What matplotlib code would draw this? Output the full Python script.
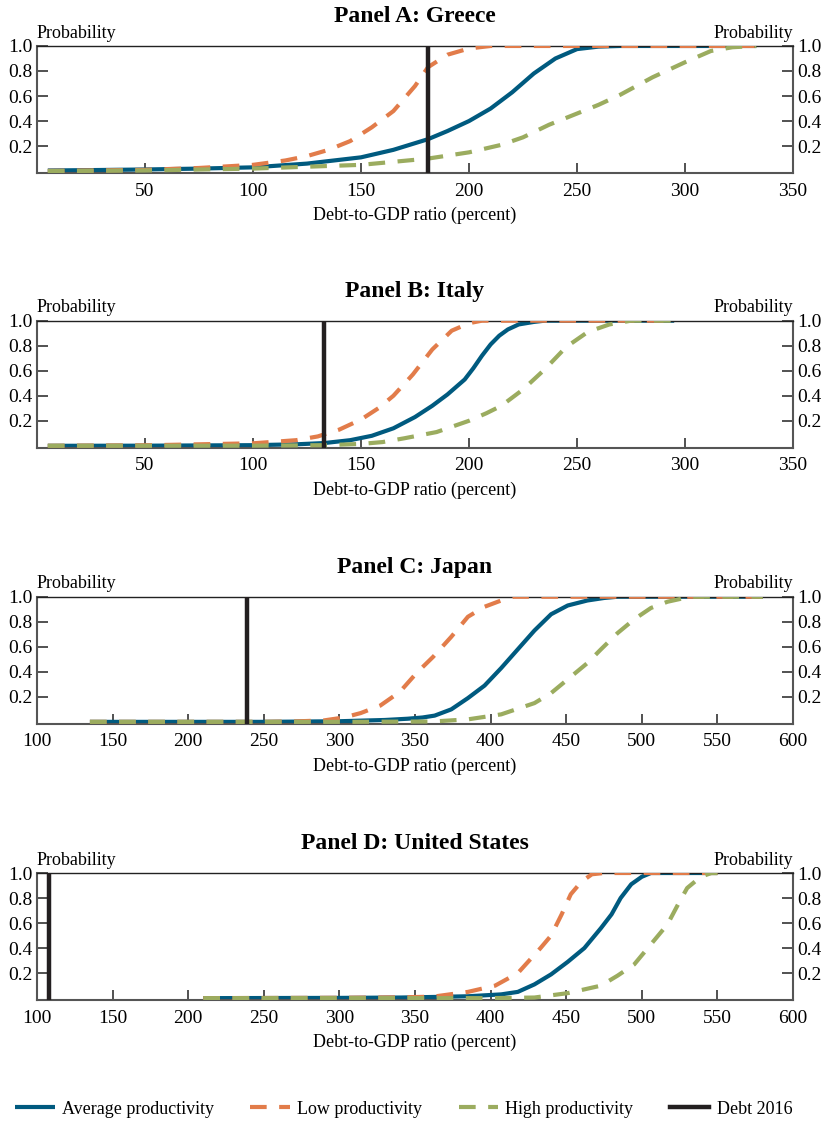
import matplotlib
matplotlib.use('Agg')
import matplotlib.pyplot as plt

plt.rcParams['font.family'] = ['Liberation Serif', 'DejaVu Serif']

# 颜色
BLUE = '#005a7f'
ORANGE = '#e27c4a'
GREEN = '#9bac5f'
BLACK = '#231f20'

# Panel A: Greece
greece_avg_x = [5, 25, 50, 75, 100, 125, 150, 165, 181, 190, 200, 210, 220, 230, 240, 250, 260, 270, 333]
greece_avg_y = [0.005, 0.008, 0.013, 0.02, 0.03, 0.06, 0.11, 0.17, 0.255, 0.32, 0.40, 0.50, 0.63, 0.78, 0.90, 0.975, 0.995, 1.0, 1.0]
greece_low_x = [5, 25, 50, 75, 100, 115, 125, 135, 145, 155, 165, 175, 181, 190, 200, 210, 220, 333]
greece_low_y = [0.002, 0.005, 0.01, 0.025, 0.05, 0.085, 0.12, 0.17, 0.24, 0.35, 0.48, 0.68, 0.83, 0.93, 0.98, 1.0, 1.0, 1.0]
greece_high_x = [5, 50, 100, 150, 181, 200, 215, 225, 237, 250, 260, 270, 285, 300, 312, 322, 333]
greece_high_y = [0.0, 0.005, 0.02, 0.05, 0.10, 0.15, 0.21, 0.27, 0.37, 0.46, 0.53, 0.61, 0.75, 0.87, 0.96, 0.99, 1.0]

# Panel B: Italy
italy_avg_x = [5, 50, 100, 120, 133, 145, 155, 165, 175, 183, 190, 198, 202, 206, 210, 214, 218, 223, 230, 235, 295]
italy_avg_y = [0.0, 0.001, 0.005, 0.012, 0.022, 0.045, 0.08, 0.14, 0.23, 0.32, 0.41, 0.53, 0.62, 0.72, 0.81, 0.88, 0.93, 0.97, 0.99, 1.0, 1.0]
italy_low_x = [5, 50, 100, 120, 130, 140, 150, 158, 165, 174, 183, 192, 200, 206, 215, 295]
italy_low_y = [0.0, 0.004, 0.02, 0.045, 0.075, 0.13, 0.21, 0.30, 0.40, 0.57, 0.77, 0.92, 0.98, 1.0, 1.0, 1.0]
italy_high_x = [5, 100, 133, 150, 160, 170, 185, 200, 208, 215, 225, 235, 245, 255, 265, 275, 295]
italy_high_y = [0.0, 0.001, 0.005, 0.015, 0.03, 0.06, 0.11, 0.2, 0.26, 0.32, 0.45, 0.61, 0.79, 0.91, 0.97, 1.0, 1.0]

# Panel C: Japan
japan_avg_x = [135, 250, 300, 330, 345, 355, 363, 374, 385, 396, 407, 418, 429, 440, 451, 464, 475, 484, 580]
japan_avg_y = [0.0, 0.0, 0.005, 0.015, 0.025, 0.035, 0.05, 0.1, 0.19, 0.29, 0.43, 0.58, 0.73, 0.86, 0.93, 0.97, 0.99, 1.0, 1.0]
japan_low_x = [135, 250, 270, 290, 303, 314, 327, 340, 351, 362, 374, 385, 396, 407, 415, 580]
japan_low_y = [0.0, 0.0, 0.003, 0.012, 0.035, 0.07, 0.13, 0.24, 0.39, 0.52, 0.68, 0.84, 0.92, 0.97, 1.0, 1.0]
japan_high_x = [135, 300, 362, 385, 407, 429, 440, 451, 464, 473, 484, 495, 506, 517, 532, 580]
japan_high_y = [0.0, 0.0, 0.003, 0.02, 0.06, 0.15, 0.23, 0.34, 0.47, 0.58, 0.71, 0.82, 0.91, 0.96, 1.0, 1.0]

# Panel D: United States
us_avg_x = [210, 300, 341, 365, 385, 407, 418, 429, 440, 451, 462, 473, 480, 486, 493, 500, 506, 550]
us_avg_y = [0.0, 0.002, 0.005, 0.01, 0.015, 0.03, 0.05, 0.11, 0.19, 0.29, 0.40, 0.56, 0.67, 0.80, 0.91, 0.97, 1.0, 1.0]
us_low_x = [210, 300, 340, 362, 385, 403, 418, 433, 440, 447, 453, 460, 467, 475, 550]
us_low_y = [0.0, 0.003, 0.006, 0.012, 0.05, 0.1, 0.2, 0.4, 0.5, 0.67, 0.83, 0.93, 0.99, 1.0, 1.0]
us_high_x = [210, 400, 429, 451, 473, 484, 495, 506, 517, 524, 530, 539, 546, 550]
us_high_y = [0.0, 0.0, 0.005, 0.04, 0.1, 0.18, 0.27, 0.43, 0.59, 0.75, 0.88, 0.97, 1.0, 1.0]

# 2016年债务水平
debt_2016 = [181, 133, 239, 108]

titles = ['Panel A: Greece', 'Panel B: Italy', 'Panel C: Japan', 'Panel D: United States']
xlims = [(0, 350), (0, 350), (100, 600), (100, 600)]
xticks = [[50, 100, 150, 200, 250, 300, 350],
          [50, 100, 150, 200, 250, 300, 350],
          [100, 150, 200, 250, 300, 350, 400, 450, 500, 550, 600],
          [100, 150, 200, 250, 300, 350, 400, 450, 500, 550, 600]]
yticks = [0.2, 0.4, 0.6, 0.8, 1.0]

panels = [
    (greece_avg_x, greece_avg_y, greece_low_x, greece_low_y, greece_high_x, greece_high_y),
    (italy_avg_x, italy_avg_y, italy_low_x, italy_low_y, italy_high_x, italy_high_y),
    (japan_avg_x, japan_avg_y, japan_low_x, japan_low_y, japan_high_x, japan_high_y),
    (us_avg_x, us_avg_y, us_low_x, us_low_y, us_high_x, us_high_y),
]

# 每个面板的底部位置（figure坐标）
bottoms = [0.8461, 0.6017, 0.3561, 0.1103]
height = 0.1130
left = 0.0449
width = 0.9175

fig = plt.figure(figsize=(8.24, 11.24), dpi=100)

dash = (4, 3)
lw = 3.0

for i, (ax_x, ax_y, lo_x, lo_y, hi_x, hi_y) in enumerate(panels):
    ax = fig.add_axes([left, bottoms[i], width, height])
    ax.plot(ax_x, ax_y, color=BLUE, lw=lw, solid_capstyle='butt', label='Average productivity', zorder=2)
    ax.plot(lo_x, lo_y, color=ORANGE, lw=lw, dashes=dash, label='Low productivity', zorder=3)
    ax.plot(hi_x, hi_y, color=GREEN, lw=lw, dashes=dash, label='High productivity', zorder=3)
    ax.axvline(debt_2016[i], color=BLACK, lw=3.2, label='Debt 2016', zorder=4)

    ax.set_xlim(*xlims[i])
    ax.set_ylim(-0.015, 1.0)
    ax.set_xticks(xticks[i])
    ax.set_yticks(yticks)
    ax.set_yticklabels([f'{v:.1f}' for v in yticks])
    ax.tick_params(axis='x', direction='in', length=7, width=1.2, color='#333333',
                   labelsize=14, pad=7)
    ax.tick_params(axis='y', direction='in', length=8, width=1.2, color='#333333',
                   labelsize=14, pad=3, left=True, right=True, labelleft=True, labelright=True)
    for side in ['left', 'right', 'bottom']:
        ax.spines[side].set_color('#555555')
        ax.spines[side].set_linewidth(1.5)
    ax.spines['top'].set_color('#222222')
    ax.spines['top'].set_linewidth(1.0)

    ax.set_xlabel('Debt-to-GDP ratio (percent)', fontsize=13, labelpad=5)
    ax.set_title(titles[i], fontsize=17, fontweight='bold', pad=17)
    ax.text(0.0, 1.035, 'Probability', transform=ax.transAxes, ha='left', va='bottom', fontsize=13)
    ax.text(1.0, 1.035, 'Probability', transform=ax.transAxes, ha='right', va='bottom', fontsize=13)

    if i == 0:
        handles, labels = ax.get_legend_handles_labels()

fig.legend(handles, labels, loc='center', bbox_to_anchor=(0.49, 0.0133), ncol=4,
           frameon=False, fontsize=13, handlelength=2.2, columnspacing=2.0, handletextpad=0.4)

plt.savefig('out.png', dpi=100)
plt.close()
